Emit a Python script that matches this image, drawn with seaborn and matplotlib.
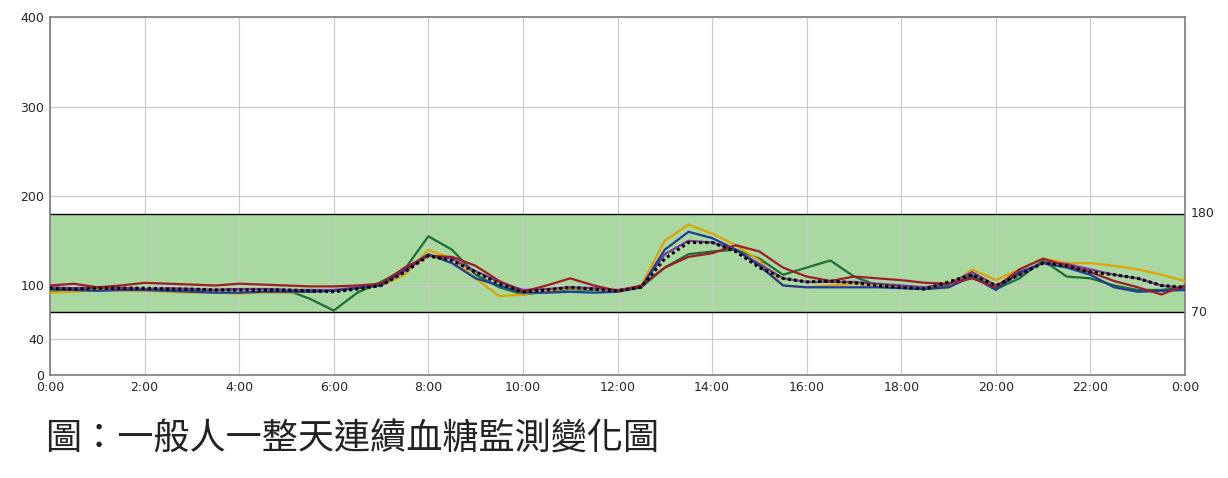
import numpy as np
import pandas as pd
import matplotlib.pyplot as plt
import seaborn as sns

sns.set_theme(style="white")
plt.rcParams['font.family'] = ['Noto Sans CJK TC', 'DejaVu Sans']

# half-hour readings, 0:00 .. 24:00
hours = [i * 0.5 for i in range(49)]

green = [93, 96, 97, 97, 96, 96, 95, 95, 96, 96, 95, 85, 72, 92, 104, 118, 155, 140, 112, 98,
         90, 93, 96, 95, 94, 98, 120, 135, 138, 140, 130, 112, 120, 128, 110, 100, 98, 96, 100, 112,
         96, 108, 128, 110, 108, 100, 95, 95, 98]
yellow = [92, 93, 95, 94, 94, 93, 92, 92, 91, 92, 92, 93, 95, 97, 100, 112, 140, 130, 108, 88,
          90, 94, 97, 96, 93, 100, 150, 168, 158, 145, 128, 100, 98, 100, 102, 100, 98, 96, 98, 118,
          106, 118, 130, 125, 125, 122, 118, 112, 105]
blue = [96, 95, 94, 95, 95, 94, 93, 92, 92, 93, 93, 93, 94, 97, 100, 118, 135, 125, 108, 100,
        92, 92, 93, 92, 93, 98, 140, 160, 153, 140, 122, 100, 98, 98, 98, 98, 97, 96, 98, 110,
        95, 115, 125, 120, 112, 98, 93, 94, 95]
red = [100, 102, 98, 100, 103, 102, 101, 100, 102, 101, 100, 99, 99, 100, 102, 120, 133, 132, 122, 105,
       93, 100, 108, 100, 94, 100, 120, 132, 136, 145, 138, 120, 110, 105, 110, 108, 106, 103, 102, 108,
       98, 118, 130, 122, 115, 105, 98, 90, 100]
purple = [98, 97, 98, 97, 96, 97, 96, 95, 96, 96, 95, 95, 95, 98, 101, 116, 134, 130, 116, 104,
          95, 96, 98, 97, 95, 99, 135, 150, 148, 140, 124, 108, 104, 104, 104, 102, 100, 98, 102, 115,
          100, 112, 126, 124, 118, 112, 108, 100, 97]
mean = [97, 96, 97, 97, 97, 96, 96, 95, 95, 95, 95, 94, 93, 96, 100, 115, 133, 128, 115, 102,
        93, 95, 98, 96, 94, 98, 130, 148, 148, 138, 120, 108, 104, 105, 103, 100, 98, 96, 104, 112,
        100, 112, 125, 122, 115, 112, 108, 100, 98]

series = {"green": green, "yellow": yellow, "purple": purple, "blue": blue, "red": red}
colors = {"green": "#1d6e36", "yellow": "#e0a400", "purple": "#7a3a9a", "blue": "#1f3c9c", "red": "#a01c28"}

df = pd.DataFrame([(h, v, name) for name, vals in series.items() for h, v in zip(hours, vals)],
                  columns=["hour", "glucose", "series"])

fig = plt.figure(figsize=(12.28, 4.78), dpi=100)
ax = fig.add_axes([50 / 1228, 103 / 478, 1135 / 1228, 358 / 478])

ax.axhspan(70, 180, facecolor="#a9d8a0", edgecolor="none", zorder=0)
ax.axhline(180, color="black", lw=1, zorder=1)
ax.axhline(70, color="black", lw=1, zorder=1)

sns.lineplot(data=df, x="hour", y="glucose", hue="series", palette=colors, lw=1.6,
             legend=False, ax=ax, zorder=3)
ax.plot(hours, mean, color="black", lw=2.2, ls=(0, (1, 1)), zorder=4)

ax.set_xlim(0, 24)
ax.set_ylim(0, 400)
ax.set_xticks(range(0, 25, 2))
ax.set_xticklabels([f"{h % 24}:00" for h in range(0, 25, 2)], fontsize=9, family="DejaVu Sans")
ax.set_yticks([0, 40, 100, 200, 300, 400])
ax.set_yticklabels(["0", "40", "100", "200", "300", "400"], fontsize=9, family="DejaVu Sans")
ax.set_xlabel("")
ax.set_ylabel("")
ax.grid(True, color="#c8c8c8", lw=0.8, zorder=-1)
ax.set_axisbelow(True)
ax.tick_params(length=0, pad=4)
for s in ax.spines.values():
    s.set_color("#808080")

ax.text(1.005, 180, "180", transform=ax.get_yaxis_transform(), va="center", fontsize=9, family="DejaVu Sans")
ax.text(1.005, 70, "70", transform=ax.get_yaxis_transform(), va="center", fontsize=9, family="DejaVu Sans")

fig.text(45 / 1228, 1 - 440 / 478, "圖：一般人一整天連續血糖監測變化圖", fontsize=26,
         va="center", ha="left", color="#222222")

fig.savefig("out.png", dpi=100, facecolor="white")
